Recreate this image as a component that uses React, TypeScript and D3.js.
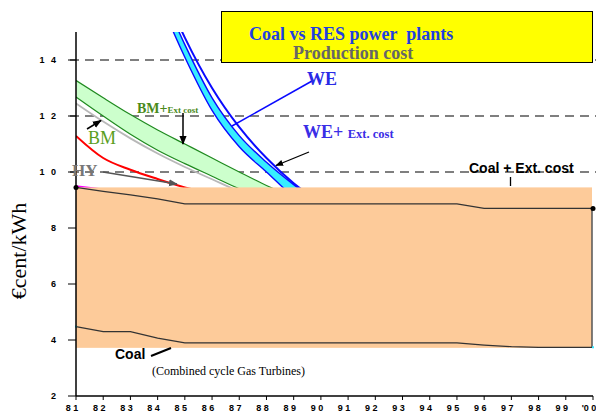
import React from 'react';
import * as d3 from 'd3';

// years on the x axis and their tick labels
const years = [1981, 1982, 1983, 1984, 1985, 1986, 1987, 1988, 1989, 1990, 1991, 1992, 1993, 1994, 1995, 1996, 1997, 1998, 1999, 2000];
const yearLabels = ['8 1', '8 2', '8 3', '8 4', '8 5', '8 6', '8 7', '8 8', '8 9', '9 0', '9 1', '9 2', '9 3', '9 4', '9 5', '9 6', '9 7', '9 8', '9 9', "'0 0"];
const yTicks = [2, 4, 6, 8, 10, 12, 14];
const gridValues = [10, 12, 14];

// coal, production cost and with external cost (1981-2000)
const coalExt = [9.45, 9.31, 9.18, 9.04, 8.86, 8.86, 8.86, 8.86, 8.86, 8.86, 8.86, 8.86, 8.86, 8.86, 8.86, 8.7, 8.7, 8.7, 8.7, 8.7];
const coal = [4.48, 4.3, 4.3, 4.07, 3.9, 3.9, 3.9, 3.9, 3.9, 3.9, 3.9, 3.9, 3.9, 3.9, 3.9, 3.82, 3.76, 3.74, 3.74, 3.74];
const coalBox = [9.45, 3.72];

// biomass band (1981-1989)
const bmYears = [1981, 1982, 1983, 1984, 1985, 1986, 1987, 1988, 1989];
const bmExt = [13.27, 12.65, 12.05, 11.5, 11.0, 10.5, 10.0, 9.52, 9.1];
const bm = [12.68, 12.0, 11.35, 10.78, 10.3, 9.85, 9.4, 9.0, 8.6];
const bmGrey = [12.45, 11.8, 11.2, 10.66, 10.18, 9.74, 9.3, 8.9, 8.5];

// hydro (1981-1986)
const hyYears = [1981, 1982, 1983, 1984, 1985, 1986];
const hy = [11.29, 10.5, 10.08, 9.75, 9.45, 9.25];
const pinkYears = [1981, 1982];
const pink = [9.5, 9.38];

// wind (1984-1990)
const weYears = [1984, 1985, 1986, 1987, 1988, 1989, 1990];
const weLow = [16.3, 14.1, 12.2, 10.9, 10.0, 9.1, 8.4];
const weHigh = [16.75, 14.55, 12.65, 11.3, 10.35, 9.55, 8.85];
const weExt = [17.0, 14.8, 13.0, 11.6, 10.5, 9.6, 8.9];

const W = 596;
const H = 418;
const serif = '"Liberation Serif", "Times New Roman", serif';
const sans = '"Liberation Sans", Arial, sans-serif';

const App = () => {
  const x = d3.scaleLinear().domain([1981, 2000]).range([76, 593]);
  const y = d3.scaleLinear().domain([2, 15]).range([396, 32]);

  const line = (xs: number[]) =>
    d3.line<number>()
      .x((d, i) => x(xs[i]))
      .y(d => y(d))
      .curve(d3.curveMonotoneX);

  const band = (xs: number[], lo: number[], hi: number[]) =>
    d3.area<number>()
      .x((d, i) => x(xs[i]))
      .y0(d => y(d))
      .y1((d, i) => y(hi[i]))
      .curve(d3.curveMonotoneX)(lo);

  const straight = d3.line<number>().x((d, i) => x(years[i])).y(d => y(d));
  const last = years.length - 1;

  return (
    <svg width={W} height={H} style={{ position: 'absolute', left: 0, top: 0, background: '#fff' }}>
      <defs>
        <clipPath id="plot">
          <rect x={76} y={32} width={W - 76} height={396 - 32} />
        </clipPath>
        <marker id="headBlack" viewBox="0 0 10 10" refX="9" refY="5" markerWidth="6" markerHeight="6" orient="auto">
          <path d="M0,1 L10,5 L0,9 z" fill="#000" />
        </marker>
        <marker id="headGrey" viewBox="0 0 10 10" refX="9" refY="5" markerWidth="6" markerHeight="6" orient="auto">
          <path d="M0,1 L10,5 L0,9 z" fill="#555" />
        </marker>
      </defs>

      {/* dashed grid lines */}
      {gridValues.map(v => (
        <line key={v} x1={70} x2={W} y1={y(v)} y2={y(v)}
          stroke={v === 10 ? '#000' : '#555'} strokeWidth={v === 10 ? 1.1 : 1.5} strokeDasharray="9,6" />
      ))}

      <g clipPath="url(#plot)">
        {/* biomass */}
        <path d={band(bmYears, bm, bmExt) || ''} fill="#ccffcc" stroke="none" />
        <path d={line(bmYears)(bmGrey) || ''} fill="none" stroke="#b8b8b8" strokeWidth={1.8} />
        <path d={line(bmYears)(bmExt) || ''} fill="none" stroke="#1f8a1f" strokeWidth={1.2} />
        <path d={line(bmYears)(bm) || ''} fill="none" stroke="#1f8a1f" strokeWidth={1.2} />

        {/* hydro */}
        <path d={line(hyYears)(hy) || ''} fill="none" stroke="#ff0000" strokeWidth={2} />
        <path d={line(pinkYears)(pink) || ''} fill="none" stroke="#ff00ff" strokeWidth={1.5} />

        {/* wind */}
        <path d={band(weYears, weLow, weHigh) || ''} fill="#36eeff" stroke="none" />
        <path d={line(weYears)(weLow) || ''} fill="none" stroke="#0a0aff" strokeWidth={1.4} />
        <path d={line(weYears)(weHigh) || ''} fill="none" stroke="#0a0aff" strokeWidth={1.4} />
        <path d={line(weYears)(weExt) || ''} fill="none" stroke="#0a0aff" strokeWidth={2} />
      </g>

      {/* coal box */}
      <rect x={x(1981)} y={y(coalBox[0])} width={x(2000) - x(1981) - 1} height={y(coalBox[1]) - y(coalBox[0])} fill="#fdcb9a" />
      <line x1={x(2000) - 1} x2={x(2000) - 1} y1={y(coalExt[last])} y2={y(coalBox[1])} stroke="#555" strokeWidth={1.5} />
      <path d={straight(coalExt) || ''} fill="none" stroke="#333" strokeWidth={1.2} />
      <path d={straight(coal) || ''} fill="none" stroke="#333" strokeWidth={1.2} />
      <circle cx={x(1981)} cy={y(coalExt[0])} r={2.5} fill="#000" />
      <circle cx={x(2000)} cy={y(coalExt[last])} r={2.5} fill="#000" />
      <rect x={x(1981) - 1} y={y(coal[0]) - 1} width={2} height={2} fill="#33e6ff" />
      <rect x={x(2000) - 1} y={y(coal[last]) - 1} width={2} height={2} fill="#33e6ff" />

      {/* axes */}
      <line x1={76} x2={76} y1={32} y2={396} stroke="#000" strokeWidth={1.5} />
      <line x1={76} x2={593} y1={396} y2={396} stroke="#000" strokeWidth={1.5} />
      {yTicks.map(v => (
        <g key={v}>
          <line x1={68} x2={76} y1={y(v)} y2={y(v)} stroke="#000" strokeWidth={1} />
          <text x={58} y={y(v)} dy="0.35em" textAnchor="end" fontFamily={sans} fontWeight="bold" fontSize={9} letterSpacing={2}>
            {String(v).split('').join(' ')}
          </text>
        </g>
      ))}
      {years.map((yr, i) => (
        <g key={yr}>
          <line x1={x(yr)} x2={x(yr)} y1={396} y2={400} stroke="#000" strokeWidth={1} />
          <text x={x(yr) - 4} y={411} textAnchor="middle" fontFamily={sans} fontWeight="bold" fontSize={9}>
            {yearLabels[i]}
          </text>
        </g>
      ))}
      <text transform="translate(26,251) rotate(-90)" textAnchor="middle" fontFamily={serif} fontSize={22}>€cent/kWh</text>

      {/* annotations */}
      <text x={72} y={176} fontFamily={serif} fontWeight="bold" fontSize={17} fill="#777">HY</text>
      <line x1={103} y1={172} x2={177} y2={184} stroke="#555" strokeWidth={1.5} markerEnd="url(#headGrey)" />

      <text x={88} y={144} fontFamily={serif} fontSize={18} fill="#5a9e1e">BM</text>
      <line x1={87} y1={129} x2={101} y2={120.5} stroke="#000" strokeWidth={1.5} markerEnd="url(#headBlack)" />

      <text x={137} y={113} fontFamily={serif} fontWeight="bold" fill="#4a8a1a">
        <tspan fontSize={14}>BM+</tspan><tspan fontSize={9}>Ext cost</tspan>
      </text>
      <line x1={183} y1={113} x2={183} y2={144} stroke="#000" strokeWidth={1.5} markerEnd="url(#headBlack)" />

      <line x1={312} y1={81} x2={232} y2={126} stroke="#0a0aff" strokeWidth={1.5} />
      <text x={307} y={85} fontFamily={serif} fontWeight="bold" fontSize={18} fill="#2a2ae6">WE</text>

      <text x={303} y={138} fontFamily={serif} fontWeight="bold" fill="#3a2ee6">
        <tspan fontSize={18}>WE+ </tspan><tspan fontSize={12.5}>Ext. cost</tspan>
      </text>
      <line x1={309} y1={152} x2={276} y2={165.5} stroke="#000" strokeWidth={1.3} markerEnd="url(#headBlack)" />

      <text x={469} y={173} fontFamily={sans} fontWeight="bold" fontSize={14} fill="#000">Coal + Ext. cost</text>
      <line x1={510.5} x2={510.5} y1={177} y2={186} stroke="#000" strokeWidth={1.3} />

      <text x={115} y={359} fontFamily={sans} fontWeight="bold" fontSize={14} fill="#000">Coal</text>
      <line x1={151} y1={356} x2={171} y2={348} stroke="#000" strokeWidth={2} />
      <text x={152} y={375} fontFamily={serif} fontSize={12} fill="#000">(Combined cycle Gas Turbines)</text>

      {/* title box */}
      <rect x={221.5} y={11.5} width={371} height={51} fill="#ffff00" stroke="#000" strokeWidth={1} />
      <text x={249} y={40} fontFamily={serif} fontWeight="bold" fontSize={18} fill="#1f3fe0" style={{ whiteSpace: 'pre' }}>Coal vs RES power  plants</text>
      <text x={293} y={59} fontFamily={serif} fontWeight="bold" fontSize={18} fill="#666">Production cost</text>
    </svg>
  );
};

export default App;
